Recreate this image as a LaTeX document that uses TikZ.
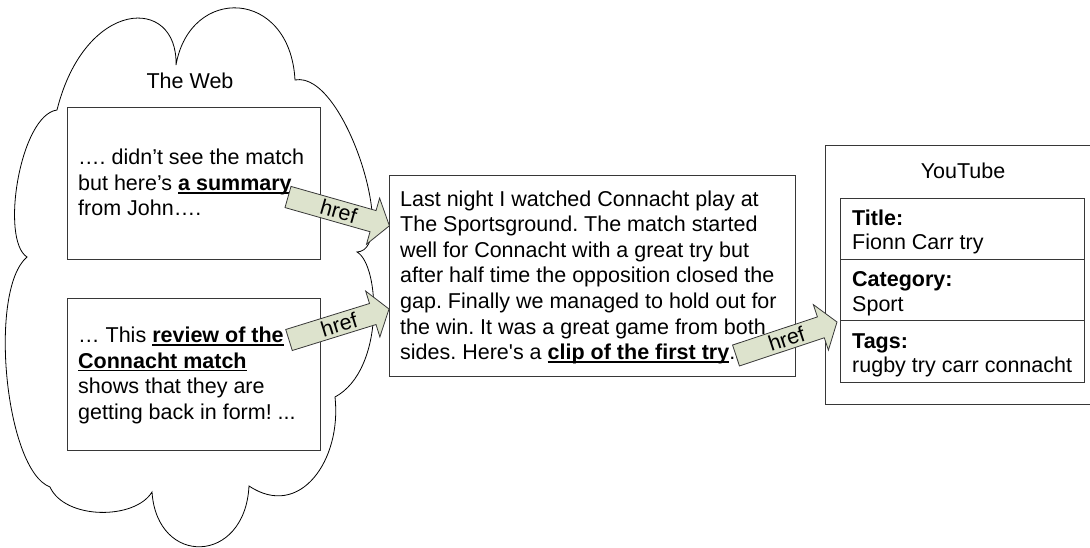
\documentclass[tikz,border=0pt]{standalone}
\usepackage{fontspec}
\setmainfont{Liberation Sans}[Ligatures=TeXOff]
\usetikzlibrary{calc}
\frenchspacing
\definecolor{arrowfill}{RGB}{221,227,205}
\definecolor{boxline}{RGB}{55,55,55}
\newcommand\ulx[1]{\setbox0=\hbox{#1}\rlap{\rule[-3.2pt]{\wd0}{1.4pt}}\box0}
% block arrow from coordinate #1 (tail) to coordinate #2 (tip)
\newcommand\blockarrow[2]{%
  \coordinate (#1h) at ($(#2)!17pt!(#1)$);
  \filldraw[hrefarrow]
    ($(#1)!11pt!90:(#2)$) -- ($(#1h)!11pt!-90:(#1)$) -- ($(#1h)!24pt!-90:(#1)$)
    -- (#2) -- ($(#1h)!24pt!90:(#1)$) -- ($(#1h)!11pt!90:(#1)$)
    -- ($(#1)!11pt!-90:(#2)$) -- cycle;
  \path (#1) -- (#2) node[midway, sloped, inner sep=0pt] (#1t) {href};}
\begin{document}
\begin{tikzpicture}[x=1pt, y=-1pt,
  font=\fontsize{21.5pt}{25.5pt}\selectfont,
  txt/.style={anchor=base west, inner sep=0pt},
  box/.style={draw=boxline, line width=0.9pt, fill=white, inner sep=0pt, anchor=north west},
  cloudline/.style={draw=black, line width=0.8pt, fill=white},
  hrefarrow/.style={draw=boxline, line width=0.8pt, fill=arrowfill, line join=miter}]
\useasboundingbox (0,0) rectangle (1090,548);

% cloud "The Web"
\path[cloudline] (176,65)
  .. controls (190,-15) and (290,-12) .. (295,80)
  .. controls (345,70) and (400,250) .. (357,252)
  .. controls (380,265) and (385,370) .. (335,397)
  .. controls (342,460) and (300,520) .. (249,486)
  .. controls (245,565) and (157,567) .. (152,492)
  .. controls (135,520) and (65,520) .. (50,487)
  .. controls (5,470) and (-12,290) .. (27,257)
  .. controls (0,240) and (20,115) .. (57,110)
  .. controls (85,-2) and (178,-5) .. (176,65) -- cycle;
\node[anchor=base, inner sep=0pt] (web) at (190,88.5) {The Web};

% boxes
\node[box, minimum width=253pt, minimum height=152pt] (upper) at (67,107) {};
\node[box, minimum width=253pt, minimum height=152pt] (lower) at (67,298) {};
\node[box, minimum width=406pt, minimum height=201pt] (mid) at (389,175) {};

% YouTube box (runs off the right edge)
\coordinate (yt1) at (1090,145);
\coordinate (yt2) at (825,145);
\coordinate (yt3) at (825,404);
\coordinate (yt4) at (1090,404);
\draw[draw=boxline, line width=0.9pt] (yt1) -- (yt2) -- (yt3) -- (yt4);
\node[anchor=base, inner sep=0pt] (yt) at (963,179) {YouTube};
\node[box, minimum width=244pt, minimum height=184pt] (tbl) at (840,198) {};
\coordinate (d1a) at (840,259); \coordinate (d1b) at (1084,259);
\coordinate (d2a) at (840,320); \coordinate (d2b) at (1084,320);
\draw[draw=boxline, line width=0.9pt] (d1a) -- (d1b) (d2a) -- (d2b);
\node[txt] (t1) at (852,226) {\bfseries Title:};
\node[txt] (t2) at (852,250) {Fionn Carr try};
\node[txt] (t3) at (852,287) {\bfseries Category:};
\node[txt] (t4) at (852,311) {Sport};
\node[txt] (t5) at (852,348) {\bfseries Tags:};
\node[txt] (t6) at (852,372) {rugby try carr connacht};

% upper box text
\node[txt] (u1) at (78,165) {…. didn’t see the match};
\node[txt] (u2) at (78,190.5) {but here’s \ulx{\bfseries a summary}};
\node[txt] (u3) at (78,216) {from John….};

% lower box text
\node[txt] (l1) at (78,342.5) {… This \ulx{\bfseries review of the}};
\node[txt] (l2) at (78,368) {\ulx{\bfseries Connacht match}};
\node[txt] (l3) at (78,393.5) {shows that they are};
\node[txt] (l4) at (78,419) {getting back in form! ...};

% middle box text
\node[txt] (m1) at (400,206.5) {Last night I watched Connacht play at};
\node[txt] (m2) at (400,232) {The Sportsground. The match started};
\node[txt] (m3) at (400,257.5) {well for Connacht with a great try but};
\node[txt] (m4) at (400,283) {after half time the opposition closed the};
\node[txt] (m5) at (400,308.5) {gap. Finally we managed to hold out for};
\node[txt] (m6) at (400,334) {the win. It was a great game from both};
\node[txt] (m7) at (400,359.5) {sides. Here's a \ulx{\bfseries clip of the first try}.};

% href arrows
\coordinate (a1) at (288,197);     \coordinate (b1) at (389.4,225.8);
\coordinate (a2) at (289,340);     \coordinate (b2) at (389,309);
\coordinate (a3) at (736,355.5);   \coordinate (b3) at (837,322);
\blockarrow{a1}{b1}
\blockarrow{a2}{b2}
\blockarrow{a3}{b3}
\end{tikzpicture}
\end{document}
